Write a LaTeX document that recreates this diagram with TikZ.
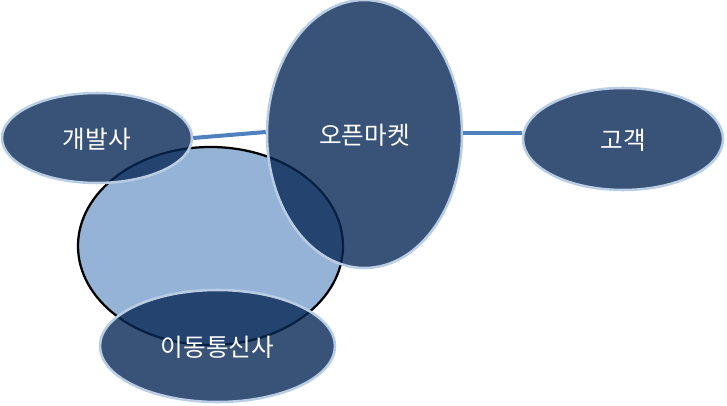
\documentclass[tikz,border=0pt]{standalone}
\usepackage{fontspec}
\newfontfamily\kr{Noto Sans CJK KR}
\usetikzlibrary{shapes.geometric}
\usetikzlibrary{positioning}

\definecolor{darkfill}{RGB}{8,40,86}
\definecolor{rimblue}{RGB}{185,205,229}
\definecolor{lightfill}{RGB}{149,179,215}
\definecolor{linkblue}{RGB}{79,129,189}

\begin{document}
\begin{tikzpicture}[x=0.75pt, y=-0.75pt,
  party/.style={ellipse, draw=rimblue, line width=1.9pt, fill=darkfill,
    fill opacity=0.8, text opacity=1, text=white, font=\kr\fontsize{18.5}{20}\selectfont,
    inner sep=0pt, text height=1.5em, text depth=0pt},
  link/.style={draw=linkblue, line width=3pt}]
\useasboundingbox (0,0) rectangle (727,406);

%big light ellipse
\node[ellipse, draw=black, line width=1.7pt, fill=lightfill,
  minimum width=198.75pt, minimum height=148.5pt] (base) at (210.5,246) {};

%parties
\node[party, minimum width=142.5pt, minimum height=67.5pt] (dev) at (97,138) {개발사};
\node[party, minimum width=146.25pt, minimum height=201pt] (market) at (364.5,134) {오픈마켓};
\node[party, minimum width=150pt, minimum height=76.5pt] (client) at (623,139) {고객};
\node[party, minimum width=176.25pt, minimum height=84pt] (telco) at (217.5,346) {이동통신사};

%links
\draw[link] (dev.east) -- ([yshift=1.5pt]market.west);
\draw[link] ([yshift=1pt]market.east) -- ([yshift=1pt]market.east -| client.west);
\end{tikzpicture}
\end{document}
